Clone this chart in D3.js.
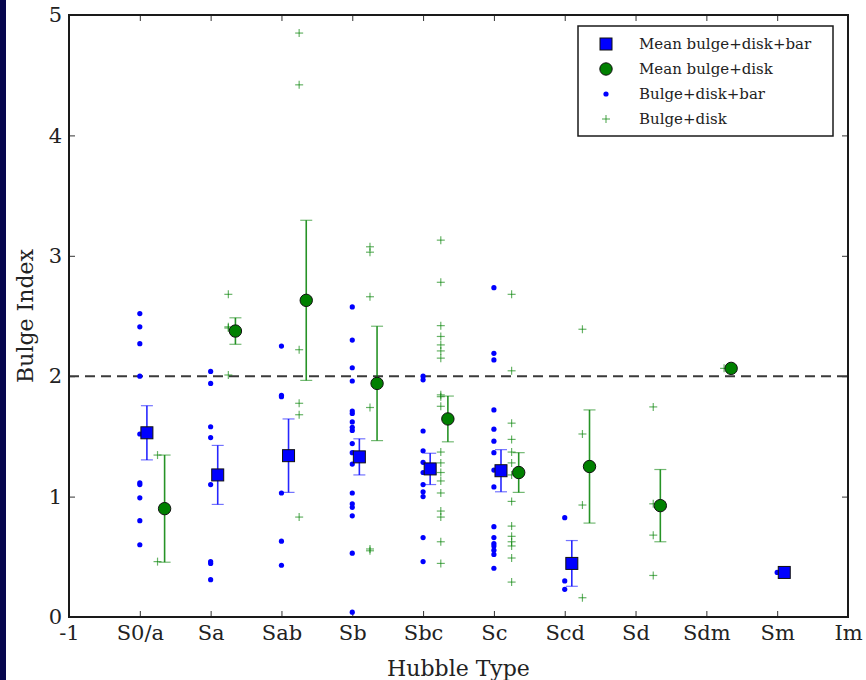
<!DOCTYPE html>
<html>
<head>
<meta charset="utf-8">
<script src="https://cdn.jsdelivr.net/npm/d3@7"></script>
<style>
  body { margin: 0; background: #fff; }
  svg { display: block; }
  .tick text { font-family: "DejaVu Serif", serif; font-size: 21px; fill: #222; }
  .tick line { stroke: #333; stroke-width: 1; }
</style>
</head>
<body>
<div id="chart"></div>
<script>
// tick labels along x (index -1 .. 10)
var tickLabels = ["-1", "S0/a", "Sa", "Sab", "Sb", "Sbc", "Sc", "Scd", "Sd", "Sdm", "Sm", "Im"];

// bulge+disk+bar fits (blue)
var barTypes = [0, 1, 2, 3, 4, 5, 6, 9];
var barValues = [
  [2.52, 2.41, 2.27, 2.00, 1.52, 1.115, 1.10, 0.99, 0.80, 0.60],
  [2.04, 1.94, 1.58, 1.49, 1.10, 0.46, 0.445, 0.31],
  [2.25, 1.84, 1.83, 1.03, 0.63, 0.43],
  [2.575, 2.30, 2.07, 1.96, 1.71, 1.69, 1.62, 1.575, 1.55, 1.44, 1.365, 1.27, 1.03, 0.94, 0.91, 0.84, 0.53, 0.04],
  [2.00, 1.97, 1.545, 1.38, 1.285, 1.20, 1.10, 1.04, 1.00, 0.66, 0.46],
  [2.735, 2.19, 2.135, 1.72, 1.56, 1.46, 1.365, 1.22, 1.08, 0.75, 0.66, 0.61, 0.59, 0.555, 0.52, 0.405],
  [0.825, 0.30, 0.23],
  [0.37]
];
var barMean = [1.53, 1.18, 1.34, 1.33, 1.23, 1.215, 0.445, 0.37];
var barErr = [0.225, 0.245, 0.305, 0.15, 0.13, 0.175, 0.19, 0];

// bulge+disk fits (green)
var diskTypes = [0, 1, 2, 3, 4, 5, 6, 7, 8];
var diskValues = [
  [1.345, 0.46],
  [2.68, 2.41, 2.40, 2.01],
  [4.85, 4.42, 2.22, 1.775, 1.68, 0.83],
  [3.075, 3.03, 2.66, 1.74, 0.565, 0.55],
  [3.13, 2.78, 2.42, 2.33, 2.26, 2.21, 2.15, 1.845, 1.83, 1.75, 1.37, 1.28, 1.20, 1.13, 1.03, 0.88, 0.83, 0.625, 0.445],
  [2.68, 2.045, 1.61, 1.475, 1.37, 1.28, 1.18, 0.96, 0.755, 0.67, 0.625, 0.59, 0.49, 0.29],
  [2.39, 1.52, 0.93, 0.16],
  [1.745, 0.94, 0.68, 0.345],
  [2.065]
];
var diskMean = [0.90, 2.375, 2.63, 1.94, 1.645, 1.20, 1.25, 0.925, 2.065];
var diskErr = [0.445, 0.11, 0.665, 0.475, 0.19, 0.165, 0.47, 0.30, 0];

var legendLabels = ["Mean bulge+disk+bar", "Mean bulge+disk", "Bulge+disk+bar", "Bulge+disk"];

var width = 866;
var height = 680;
var margin = {left: 69, right: 18, top: 15, bottom: 63};
var blue = "#0000ff";
var green = "#008000";

var svg = d3.select("#chart").append("svg")
  .attr("width", width)
  .attr("height", height);

// dark strip on the left edge
svg.append("rect")
  .attr("x", 0).attr("y", 0)
  .attr("width", 6).attr("height", height)
  .attr("fill", "#06064e");

var x = d3.scaleLinear()
  .domain([-1, 10])
  .range([margin.left, width - margin.right]);

var y = d3.scaleLinear()
  .domain([0, 5])
  .range([height - margin.bottom, margin.top]);

var ticksX = d3.range(-1, 11);
var ticksY = d3.range(0, 6);

/* Axes, ticks pointing in */
svg.append("g")
  .attr("transform", `translate(0, ${y(0)})`)
  .call(d3.axisBottom(x).tickValues(ticksX).tickFormat((d, i) => tickLabels[i]).tickSizeInner(-6).tickSizeOuter(0).tickPadding(8))
  .call(g => g.select(".domain").remove());

svg.append("g")
  .attr("transform", `translate(0, ${y(5)})`)
  .call(d3.axisTop(x).tickValues(ticksX).tickFormat("").tickSizeInner(-6).tickSizeOuter(0))
  .call(g => g.select(".domain").remove());

svg.append("g")
  .attr("transform", `translate(${x(-1)}, 0)`)
  .call(d3.axisLeft(y).tickValues(ticksY).tickFormat(d3.format("d")).tickSizeInner(-6).tickSizeOuter(0).tickPadding(7))
  .call(g => g.select(".domain").remove());

svg.append("g")
  .attr("transform", `translate(${x(10)}, 0)`)
  .call(d3.axisRight(y).tickValues(ticksY).tickFormat("").tickSizeInner(-6).tickSizeOuter(0))
  .call(g => g.select(".domain").remove());

// dashed line at bulge index 2
svg.append("line")
  .attr("x1", x(-1)).attr("x2", x(10))
  .attr("y1", y(2)).attr("y2", y(2))
  .attr("stroke", "#3a3a3a")
  .attr("stroke-width", 2)
  .attr("stroke-dasharray", "10,6");

var plot = svg.append("g");

/* individual points */
barTypes.forEach(function(t, i) {
  plot.selectAll(null)
    .data(barValues[i]).enter()
    .append("circle")
    .attr("cx", x(t))
    .attr("cy", d => y(d))
    .attr("r", 2.6)
    .attr("fill", blue);
});

var plusSize = 4;
diskTypes.forEach(function(t, i) {
  var g = plot.selectAll(null)
    .data(diskValues[i]).enter()
    .append("g")
    .attr("transform", d => `translate(${x(t + 0.25)}, ${y(d)})`)
    .attr("stroke", green)
    .attr("stroke-opacity", 0.6)
    .attr("stroke-width", 1.2);
  g.append("line").attr("x1", -plusSize).attr("x2", plusSize);
  g.append("line").attr("y1", -plusSize).attr("y2", plusSize);
});

/* error bars */
function errorBars(types, mean, err, offset, color) {
  types.forEach(function(t, i) {
    if (!err[i]) return;
    var cx = x(t + offset);
    var g = plot.append("g");
    g.append("line")
      .attr("x1", cx).attr("x2", cx)
      .attr("y1", y(mean[i] - err[i])).attr("y2", y(mean[i] + err[i]))
      .attr("stroke", color).attr("stroke-width", 1.6).attr("stroke-opacity", 0.85);
    [mean[i] - err[i], mean[i] + err[i]].forEach(function(v) {
      g.append("line")
        .attr("x1", cx - 6).attr("x2", cx + 6)
        .attr("y1", y(v)).attr("y2", y(v))
        .attr("stroke", color).attr("stroke-width", 1.2).attr("stroke-opacity", 0.55);
    });
  });
}
errorBars(barTypes, barMean, barErr, 0.1, blue);
errorBars(diskTypes, diskMean, diskErr, 0.35, green);

/* means */
plot.selectAll(null)
  .data(barTypes).enter()
  .append("rect")
  .attr("x", d => x(d + 0.1) - 6)
  .attr("y", (d, i) => y(barMean[i]) - 6)
  .attr("width", 12).attr("height", 12)
  .attr("fill", blue)
  .attr("stroke", "#111")
  .attr("stroke-width", 1);

plot.selectAll(null)
  .data(diskTypes).enter()
  .append("circle")
  .attr("cx", d => x(d + 0.35))
  .attr("cy", (d, i) => y(diskMean[i]))
  .attr("r", 6.2)
  .attr("fill", green)
  .attr("stroke", "#111")
  .attr("stroke-width", 1);

// frame
svg.append("rect")
  .attr("x", x(-1)).attr("y", y(5))
  .attr("width", x(10) - x(-1)).attr("height", y(0) - y(5))
  .attr("fill", "none")
  .attr("stroke", "#1a1a1a")
  .attr("stroke-width", 2);

/* axis labels */
svg.append("text")
  .attr("x", (x(-1) + x(10)) / 2)
  .attr("y", 676)
  .attr("text-anchor", "middle")
  .style("font-family", "DejaVu Serif, serif")
  .style("font-size", "22px")
  .style("fill", "#222")
  .text("Hubble Type");

svg.append("text")
  .attr("transform", `translate(33, ${(y(0) + y(5)) / 2}) rotate(-90)`)
  .attr("text-anchor", "middle")
  .style("font-family", "DejaVu Serif, serif")
  .style("font-size", "22px")
  .style("fill", "#222")
  .text("Bulge Index");

/* legend */
var legend = svg.append("g").attr("transform", "translate(578, 26)");
legend.append("rect")
  .attr("width", 255).attr("height", 110)
  .attr("fill", "#fff")
  .attr("stroke", "#1a1a1a")
  .attr("stroke-width", 1.5);

var rowY = [18, 43, 68, 93];
var mx = 28;
legend.append("rect")
  .attr("x", mx - 6).attr("y", rowY[0] - 6)
  .attr("width", 12).attr("height", 12)
  .attr("fill", blue).attr("stroke", "#111").attr("stroke-width", 1);
legend.append("circle")
  .attr("cx", mx).attr("cy", rowY[1]).attr("r", 6.2)
  .attr("fill", green).attr("stroke", "#111").attr("stroke-width", 1);
legend.append("circle")
  .attr("cx", mx).attr("cy", rowY[2]).attr("r", 2.6)
  .attr("fill", blue);
var lp = legend.append("g")
  .attr("transform", `translate(${mx}, ${rowY[3]})`)
  .attr("stroke", green).attr("stroke-opacity", 0.6).attr("stroke-width", 1.2);
lp.append("line").attr("x1", -plusSize).attr("x2", plusSize);
lp.append("line").attr("y1", -plusSize).attr("y2", plusSize);

legend.selectAll(".lt")
  .data(legendLabels).enter()
  .append("text")
  .attr("class", "lt")
  .attr("x", 61)
  .attr("y", (d, i) => rowY[i] + 5)
  .style("font-family", "DejaVu Serif, serif")
  .style("font-size", "15px")
  .style("fill", "#222")
  .text(d => d);
</script>
</body>
</html>
